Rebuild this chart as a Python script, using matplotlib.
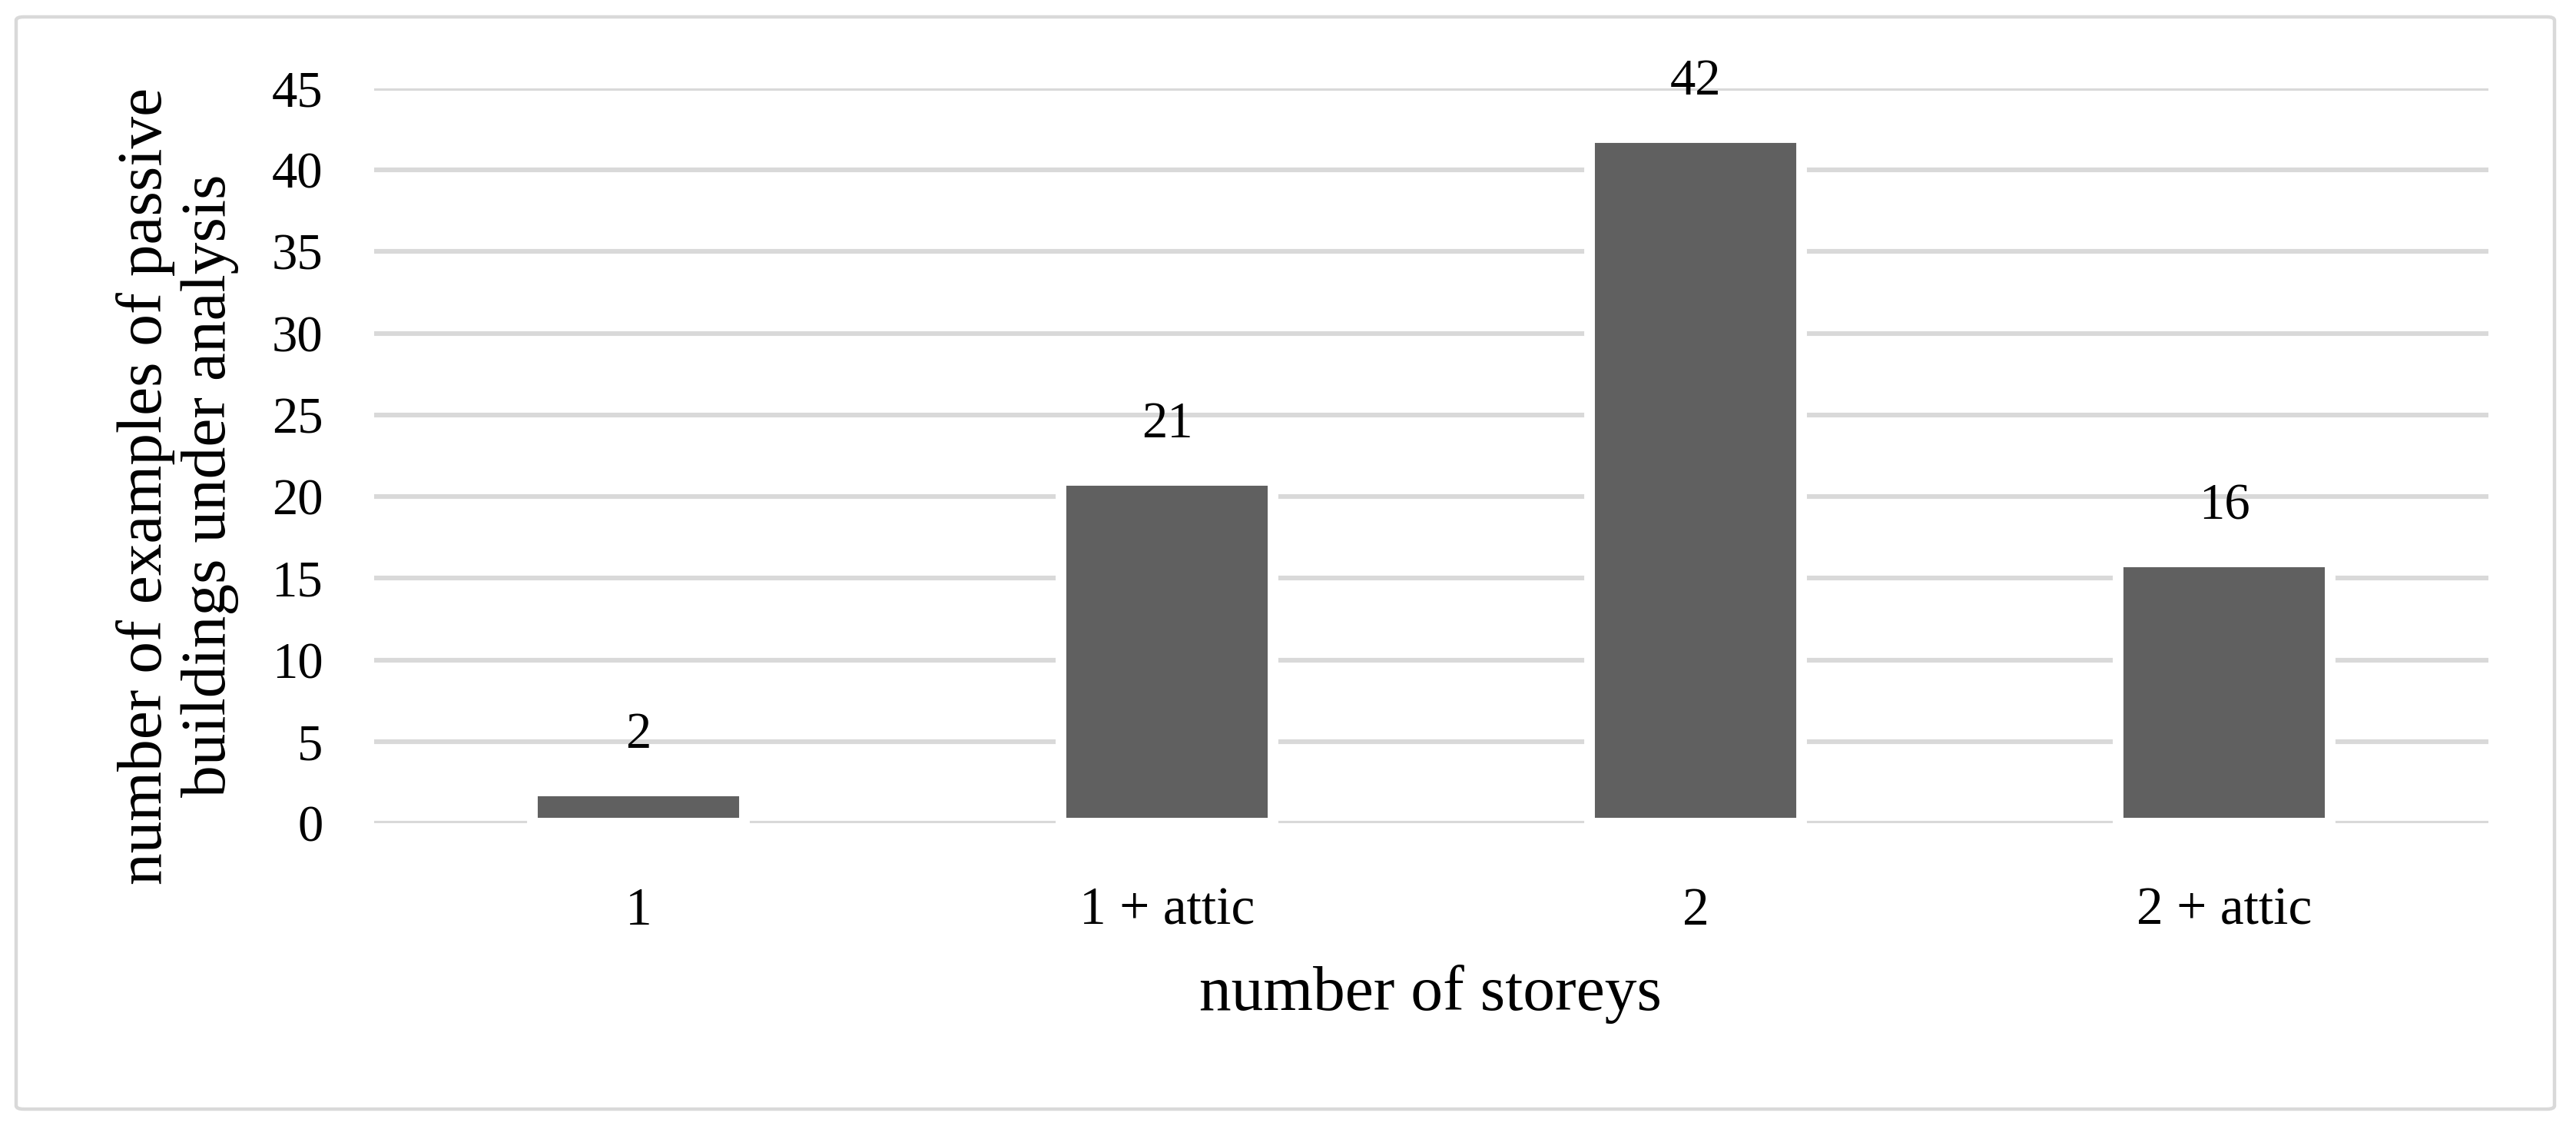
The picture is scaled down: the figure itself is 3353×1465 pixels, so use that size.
import matplotlib

matplotlib.use('Agg')
import matplotlib.pyplot as plt
from matplotlib.patches import FancyBboxPatch

# 数据
storeys = ['1', '1 + attic', '2', '2 + attic']
counts = [2, 21, 42, 16]
y_ticks = [0, 5, 10, 15, 20, 25, 30, 35, 40, 45]

W, H, DPI = 3353, 1465, 200

plt.rcParams['font.family'] = ['Liberation Serif', 'DejaVu Serif']

fig = plt.figure(figsize=(W / DPI, H / DPI), dpi=DPI)
fig.patch.set_facecolor('white')

# 外框
frame = FancyBboxPatch((21 / W, 22 / H), (3325 - 21) / W, (1443 - 22) / H,
                       boxstyle='round,pad=0,rounding_size=0.003',
                       transform=fig.transFigure, facecolor='none',
                       edgecolor='#d9d9d9', linewidth=1.6)
fig.patches.append(frame)

left, right = 487 / W, 3239 / W
bottom, top = 1 - 1071 / H, 1 - 115 / H
ax = fig.add_axes([left, bottom, right - left, top - bottom])

x = list(range(len(storeys)))
ax.bar(x, counts, width=0.4, color='#606060', edgecolor='white',
       linewidth=5, zorder=3)

for xi, v in zip(x, counts):
    ax.annotate(str(v), (xi, v), xytext=(0, 20), textcoords='offset points',
                ha='center', va='baseline', fontsize=24, color='black')

ax.set_xlim(-0.5, len(storeys) - 0.5)
ax.set_ylim(0, 45)
ax.set_yticks(y_ticks)
ax.yaxis.grid(True, color='#d9d9d9', linewidth=2.2, zorder=0)
ax.set_axisbelow(True)
for s in ax.spines.values():
    s.set_visible(False)

ax.set_xticks(x)
ax.set_xticklabels(storeys, fontsize=25)
ax.tick_params(axis='both', length=0, labelsize=24, colors='black')
ax.tick_params(axis='x', labelsize=25, pad=30)
ax.tick_params(axis='y', pad=24)

fig.text(0.5553, 1 - 1294 / H, 'number of storeys', ha='center', va='center',
         fontsize=30)
fig.text(231 / W, 1 - 632 / H,
         'number of examples of passive\nbuildings under analysis',
         ha='center', va='center', rotation=90, fontsize=30,
         multialignment='center', linespacing=1.12)

fig.savefig('out.png', dpi=DPI, facecolor='white')
